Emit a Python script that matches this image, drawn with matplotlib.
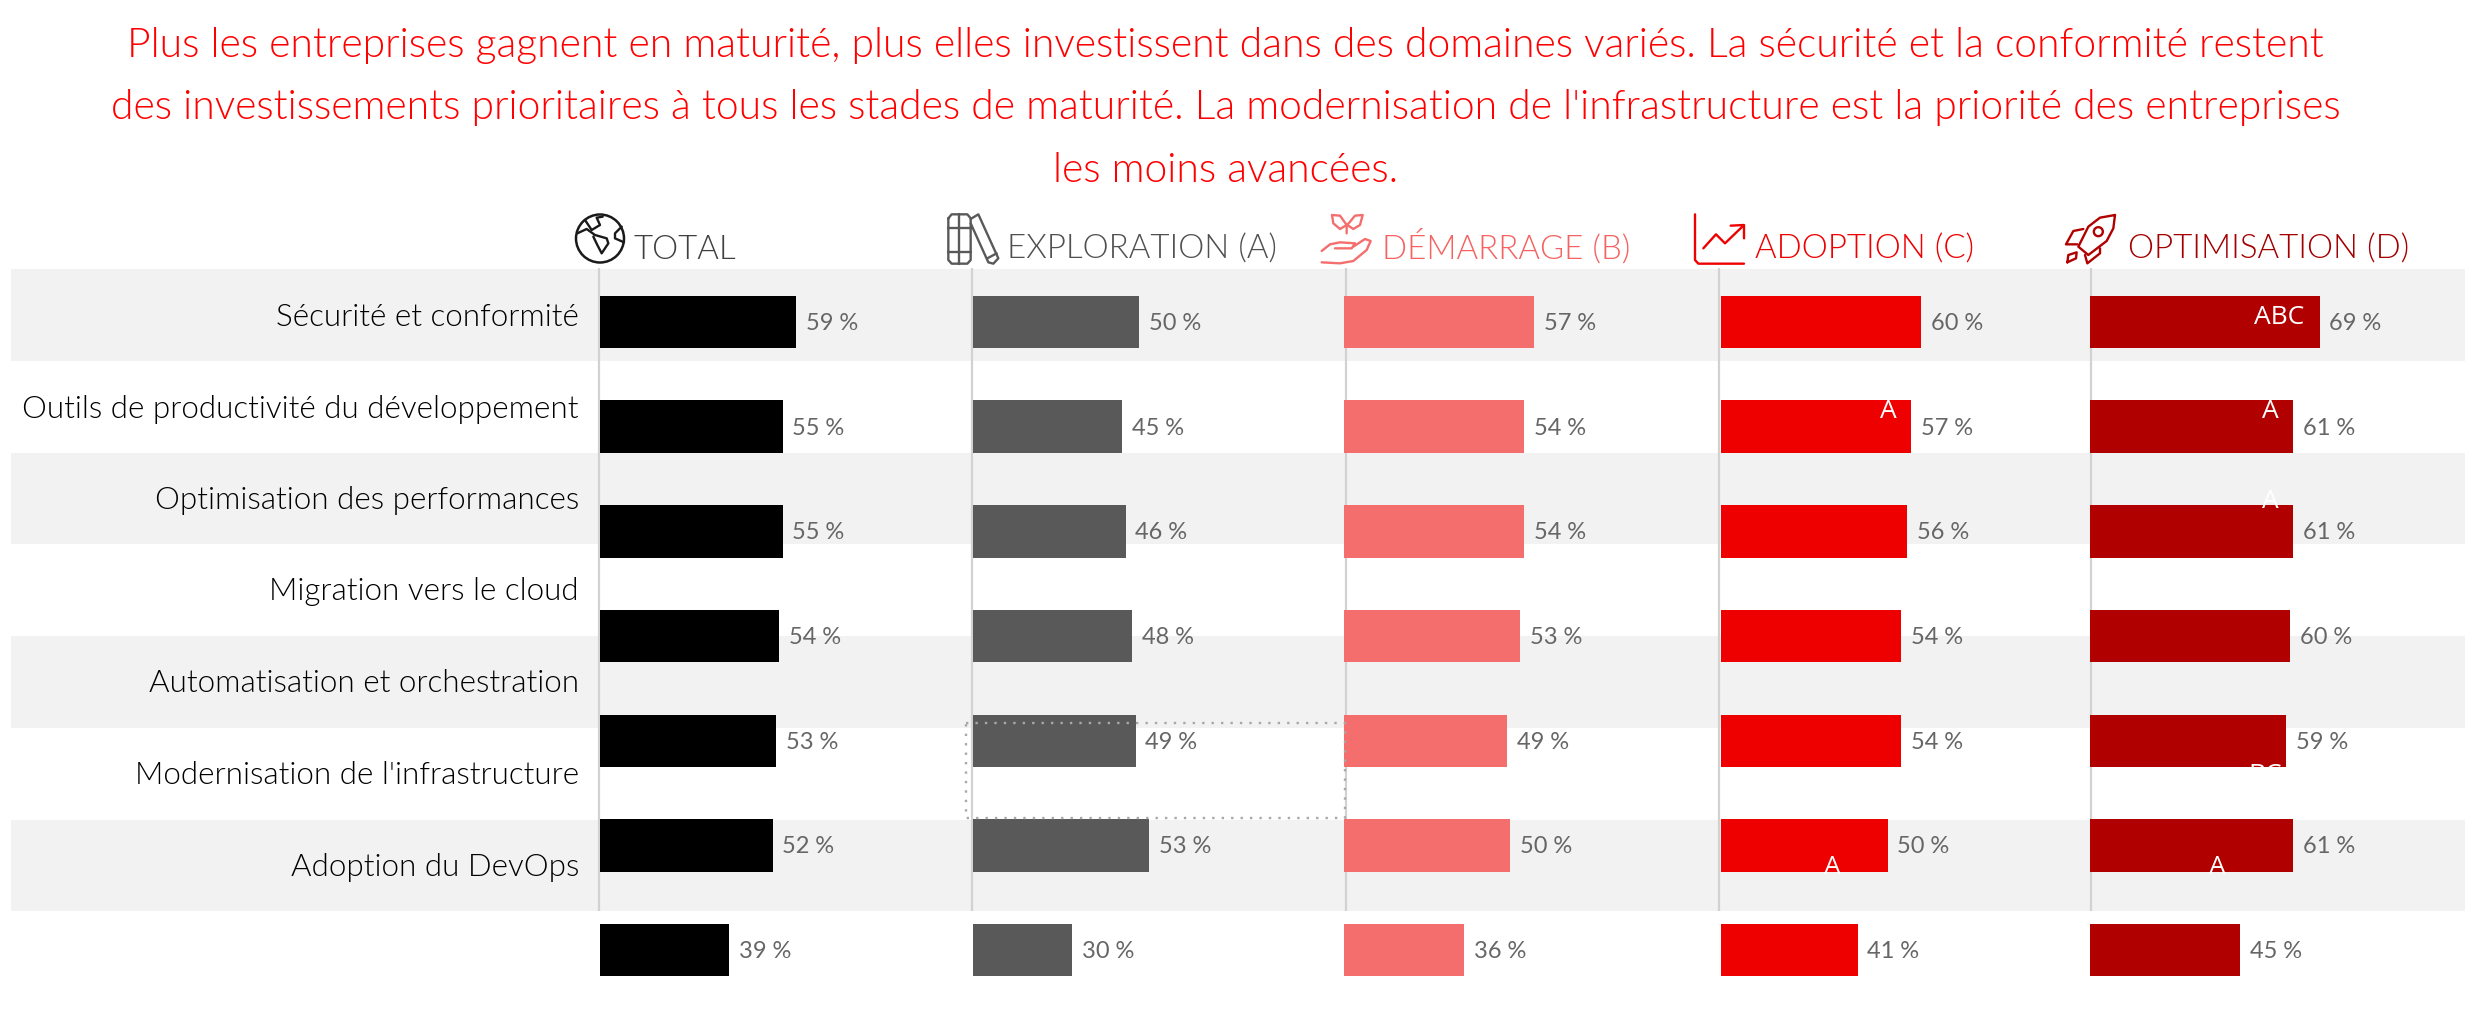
import matplotlib
matplotlib.use("Agg")
import matplotlib.pyplot as plt
from matplotlib.patches import Circle, Rectangle

W, H = 2486, 1010

# Data
rows = [
    "Sécurité et conformité",
    "Outils de productivité du développement",
    "Optimisation des performances",
    "Migration vers le cloud",
    "Automatisation et orchestration",
    "Modernisation de l'infrastructure",
    "Adoption du DevOps",
]
total = [59, 55, 55, 54, 53, 52, 39]
exploration = [50, 45, 46, 48, 49, 53, 30]
demarrage = [57, 54, 54, 53, 49, 50, 36]
adoption = [60, 57, 56, 54, 54, 50, 41]
optimisation = [69, 61, 61, 60, 59, 61, 45]
headers = ["TOTAL", "EXPLORATION (A)", "DÉMARRAGE (B)", "ADOPTION (C)", "OPTIMISATION (D)"]
title_lines = [
    "Plus les entreprises gagnent en maturité, plus elles investissent dans des domaines variés. La sécurité et la conformité restent",
    "des investissements prioritaires à tous les stades de maturité. La modernisation de l'infrastructure est la priorité des entreprises",
    "les moins avancées.",
]
sig_letters = ["ABC", "A", "A", "A", "BC", "A", "A"]

# Layout, in pixels of the final picture
series = [total, exploration, demarrage, adoption, optimisation]
colors = ["#000000", "#595959", "#F56E6E", "#EE0000", "#B00000"]
head_colors = ["#404040", "#505050", "#F56262", "#EE0000", "#A30000"]
bar_left = [599.5, 972.5, 1344, 1721, 2090]
line_x = [599.5, 972.5, 1346, 1719, 2091]
head_x = [634, 1007, 1382, 1755, 2128]
row_y = [317, 409, 500.5, 592, 684, 775, 867]
sig_x = [2279, 1888, 2270, 2270, 2265, 1832, 2217]
sig_y = [318, 411, 411, 502, 775, 867, 867]
FONT = ["Lato", "DejaVu Sans"]
BAR_TOP, BAR_STEP, BAR_H = 295.7, 104.7, 52.5
PX_PER_PCT = 3.33

fig = plt.figure(figsize=(W / 100, H / 100), dpi=100, facecolor="white")

# Pixel-coordinate layer for bands, lines, icons and row labels
bg = fig.add_axes([0, 0, 1, 1], zorder=0)
bg.set_xlim(0, W)
bg.set_ylim(H, 0)
bg.axis("off")

for i in range(4):
    top = 269 + i * 183.5
    bg.add_patch(Rectangle((11, top), 2454, 91.7, color="#F2F2F2", lw=0))
for x in line_x:
    bg.plot([x, x], [268, 911], color="#D2D2D2", lw=1.6, solid_capstyle="butt")
for name, y in zip(rows, row_y):
    bg.text(579, y, name, ha="right", va="center", fontsize=22.6, color="black",
            family=FONT, fontweight=300)

for line, y in zip(title_lines, [46, 108, 170]):
    bg.text(1225.5, y, line, ha="center", va="center", fontsize=29.3, color="#FF0000",
            family=FONT, fontweight=300)

for name, x, c in zip(headers, head_x, head_colors):
    bg.text(x, 259, name, ha="left", va="baseline", fontsize=23.8, color=c,
            family=FONT, fontweight=300)


def stroke(points, color, ox, oy, lw=1.7):
    xs = [ox + p[0] / 3 for p in points]
    ys = [oy + p[1] / 3 for p in points]
    bg.plot(xs, ys, color=color, lw=lw, solid_capstyle="round", solid_joinstyle="round")


# globe
c = "#1A1A1A"
bg.add_patch(Circle((600, 238.5), 24, fill=False, ec=c, lw=1.8))
stroke([(75, 45), (95, 75), (120, 60), (110, 38), (128, 35)], c, 560, 205)
stroke([(52, 85), (80, 72), (105, 90), (140, 100), (145, 115), (125, 145), (112, 120), (100, 95)], c, 560, 205)
stroke([(185, 65), (165, 85), (165, 100), (192, 112)], c, 560, 205)

# books
c = "#595959"
stroke([(1165, 40), (1175, 28), (1222, 28), (1232, 40), (1232, 165), (1222, 176), (1175, 176), (1165, 165), (1165, 40)], c, 560, 205)
stroke([(1198, 28), (1198, 176)], c, 560, 205)
stroke([(1165, 68), (1232, 68)], c, 560, 205)
stroke([(1165, 142), (1232, 142)], c, 560, 205)
stroke([(1232, 42), (1255, 28), (1315, 160), (1300, 176), (1285, 172), (1232, 55)], c, 560, 205)
stroke([(1282, 160), (1310, 145)], c, 560, 205)

# plant in a hand
c = "#F56E6E"
stroke([(110, 85), (110, 60), (90, 72), (70, 55), (66, 30), (90, 32), (110, 60)], c, 1310, 205)
stroke([(112, 60), (130, 72), (150, 60), (158, 30), (135, 32), (112, 60)], c, 1310, 205)
stroke([(35, 138), (60, 118), (90, 112), (135, 115), (125, 130), (75, 130)], c, 1310, 205)
stroke([(130, 125), (165, 102), (182, 108), (170, 135), (130, 168), (90, 175), (35, 172)], c, 1310, 205)

# line chart
c = "#EE0000"
stroke([(1155, 28), (1155, 165), (1165, 176), (1302, 176)], c, 1310, 205)
stroke([(1180, 130), (1218, 88), (1245, 115), (1300, 62)], c, 1310, 205)
stroke([(1262, 62), (1302, 60), (1302, 100)], c, 1310, 205)

# rocket
c = "#B00000"
stroke([(195, 30), (150, 38), (115, 65), (85, 125), (115, 150), (170, 108), (190, 70), (195, 30)], c, 2050, 205)
bg.add_patch(Circle((2050 + 145 / 3, 205 + 80 / 3), 4.5, fill=False, ec=c, lw=1.7))
stroke([(100, 72), (70, 78), (48, 118), (82, 118)], c, 2050, 205)
stroke([(150, 130), (150, 145), (112, 175), (105, 150)], c, 2050, 205)
stroke([(52, 172), (55, 150), (80, 142), (78, 160), (52, 172)], c, 2050, 205)

# One small axes per series, bars drawn in percent
ax_top, ax_bottom = 269, 985
for vals, col, left in zip(series, colors, bar_left):
    ax = fig.add_axes([left / W, 1 - ax_bottom / H, 340 / W, (ax_bottom - ax_top) / H], zorder=1)
    ax.patch.set_alpha(0)
    ax.axis("off")
    ax.set_xlim(0, 340 / PX_PER_PCT)
    centre = BAR_TOP + BAR_H / 2
    ax.set_ylim((ax_bottom - centre) / BAR_STEP, (ax_top - centre) / BAR_STEP)
    pos = range(len(vals))
    ax.barh(pos, vals, height=BAR_H / BAR_STEP, color=col, lw=0)
    for p, v in zip(pos, vals):
        ax.annotate(f"{v}\u202f%", (v, p), xytext=(7, -1), textcoords="offset points",
                    va="center", ha="left", fontsize=17, color="#666666", family=FONT,
                    annotation_clip=False)

# Top layer: dotted selection box and significance letters
top = fig.add_axes([0, 0, 1, 1], zorder=2)
top.set_xlim(0, W)
top.set_ylim(H, 0)
top.axis("off")
top.patch.set_alpha(0)
top.add_patch(Rectangle((966, 723), 379, 95, fill=False, ec="#A8A8A8", lw=1.7, ls=(0, (1, 3))))
for s, x, y in zip(sig_letters, sig_x, sig_y):
    top.text(x, y, s, color="white", fontsize=19, ha="center", va="center",
             family=["Open Sans", "DejaVu Sans"])

fig.savefig("out.png", dpi=100)
